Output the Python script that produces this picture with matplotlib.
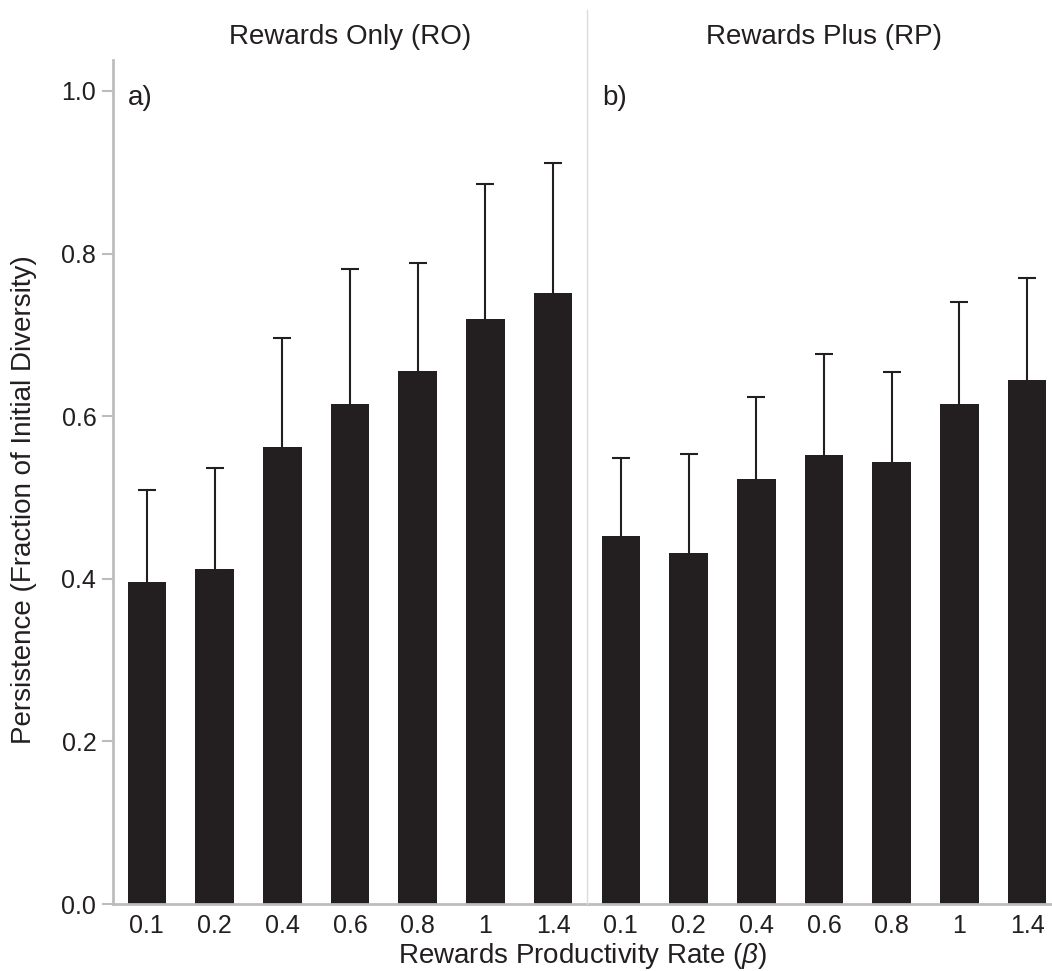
import matplotlib.pyplot as plt
from matplotlib.lines import Line2D
import numpy as np

plt.rcParams['font.family'] = ['Liberation Sans', 'DejaVu Sans']
plt.rcParams['mathtext.fontset'] = 'custom'
plt.rcParams['mathtext.it'] = 'Liberation Sans:italic'
plt.rcParams['mathtext.rm'] = 'Liberation Sans'

# Données
rates = ['0.1', '0.2', '0.4', '0.6', '0.8', '1', '1.4']
ro_mean = [0.396, 0.412, 0.562, 0.615, 0.655, 0.719, 0.752]
ro_upper = [0.509, 0.536, 0.696, 0.781, 0.788, 0.886, 0.911]
rp_mean = [0.452, 0.432, 0.523, 0.552, 0.544, 0.615, 0.645]
rp_upper = [0.548, 0.553, 0.624, 0.676, 0.654, 0.740, 0.770]
panel_titles = ['Rewards Only (RO)', 'Rewards Plus (RP)']
panel_tags = ['a)', 'b)']

W, H = 1052, 971
bar_color = '#231f20'
axis_grey = '#bdbdbd'
fs_tick = 18
fs_lab = 20

fig = plt.figure(figsize=(W / 100, H / 100), dpi=100)

# Positions des panneaux (en pixels)
y_bot, y_top = 904, 60
panels = [(113, 587), (587, 1061)]
ymax = 1.038

for i, (x0, x1) in enumerate(panels):
    ax = fig.add_axes([x0 / W, 1 - y_bot / H, (x1 - x0) / W, (y_bot - y_top) / H])
    means = [ro_mean, rp_mean][i]
    uppers = [ro_upper, rp_upper][i]
    xpos = np.arange(len(rates))
    err = [np.zeros(len(means)), np.array(uppers) - np.array(means)]
    ax.bar(xpos, means, width=0.57, color=bar_color, zorder=2)
    eb = ax.errorbar(xpos, means, yerr=err, fmt='none', ecolor=bar_color,
                     elinewidth=1.5, capsize=6.5, capthick=1.5, zorder=1)
    # pas de chapeau en bas
    eb[1][0].set_visible(False)
    ax.set_xlim(-0.5, len(rates) - 0.5)
    ax.set_ylim(0, ymax)
    ax.set_xticks(xpos)
    ax.set_xticklabels(rates, fontsize=fs_tick, color=bar_color)
    ax.tick_params(axis='x', length=0, pad=7)
    for s in ['top', 'right']:
        ax.spines[s].set_visible(False)
    ax.spines['bottom'].set_color(axis_grey)
    ax.spines['bottom'].set_linewidth(2)
    if i == 0:
        ax.spines['left'].set_color(axis_grey)
        ax.spines['left'].set_linewidth(2)
        ax.set_yticks([0, 0.2, 0.4, 0.6, 0.8, 1.0])
        ax.set_yticklabels(['0.0', '0.2', '0.4', '0.6', '0.8', '1.0'],
                           fontsize=fs_tick, color=bar_color)
        ax.tick_params(axis='y', length=8, width=1.5, color=axis_grey, pad=4)
    else:
        ax.spines['left'].set_visible(False)
        ax.set_yticks([])
    ax.text(0.032, 0.955, panel_tags[i], transform=ax.transAxes,
            fontsize=fs_lab, color=bar_color, va='center', ha='left')
    fig.text(((x0 + x1) / 2) / W, 1 - 37 / H, panel_titles[i],
             fontsize=fs_lab, color=bar_color, ha='center', va='center')

# Ligne de séparation entre les panneaux
fig.add_artist(Line2D([587 / W, 587 / W], [1 - 904 / H, 1 - 10 / H],
                      color='#dcdcdc', linewidth=1, transform=fig.transFigure))

fig.text(24 / W, 1 - 500 / H, 'Persistence (Fraction of Initial Diversity)',
         fontsize=fs_lab, color=bar_color, ha='center', va='center', rotation=90)
fig.text(583 / W, 1 - 956 / H, r'Rewards Productivity Rate ($\mathit{\beta}$)',
         fontsize=fs_lab, color=bar_color, ha='center', va='center')

fig.savefig('out.png', dpi=100)
